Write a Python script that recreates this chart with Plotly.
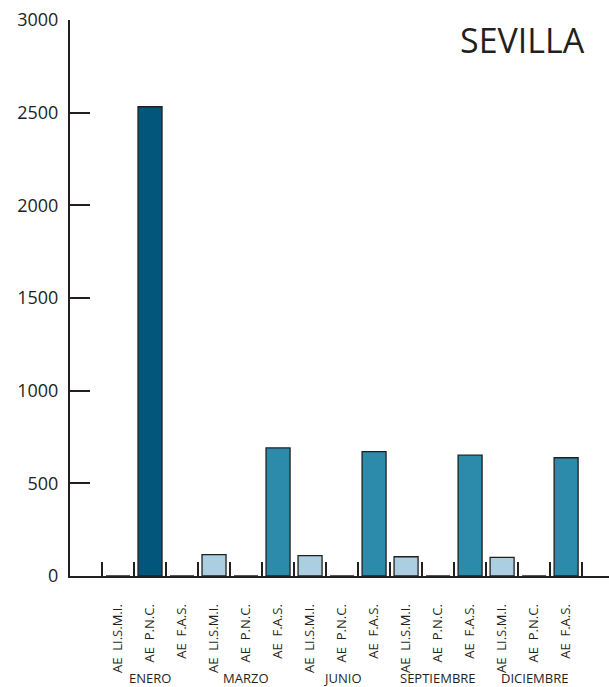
import plotly.graph_objects as go

months = ["ENERO", "MARZO", "JUNIO", "SEPTIEMBRE", "DICIEMBRE"]
types = ["AE\u00a0\u00a0LI.S.M.I.", "AE\u00a0\u00a0P.N.C.", "AE\u00a0\u00a0F.A.S."]
values = [0, 2532, 0,
          115, 0, 691,
          110, 0, 671,
          104, 0, 652,
          101, 0, 638]
bar_colors = ["#0a5274", "#03567b", "#2c8aaa",
              "#abcfe0", "#2c8aaa", "#2c8aaa",
              "#abcfe0", "#2c8aaa", "#2c8aaa",
              "#abcfe0", "#2c8aaa", "#2c8aaa",
              "#abcfe0", "#2c8aaa", "#2c8aaa"]
y_ticks = [0, 500, 1000, 1500, 2000, 2500, 3000]
title = "SEVILLA"

n = len(months) * len(types)
xpos = list(range(n))
ticktext = [t for m in months for t in types]

ink = "#231f20"
fig = go.Figure()
fig.add_trace(go.Bar(
    x=xpos, y=values, width=0.75,
    marker=dict(color=bar_colors, line=dict(color=ink, width=1.3)),
    hoverinfo="skip", showlegend=False,
))

# invisible trace to activate boundary tick axis
fig.add_trace(go.Scatter(x=[-0.5], y=[0], xaxis="x2", mode="markers",
                         marker=dict(opacity=0), showlegend=False, hoverinfo="skip"))

for i, m in enumerate(months):
    fig.add_annotation(x=i * len(types) + 1, y=-0.1835, xref="x", yref="paper",
                       text=m, showarrow=False, yanchor="middle", borderpad=0,
                       font=dict(family="Open Sans", size=13, color=ink))

fig.add_annotation(x=1, xref="paper", xanchor="right", xshift=-22,
                   y=1, yref="paper", yanchor="middle", yshift=-20,
                   text=title, showarrow=False,
                   font=dict(family="Open Sans", size=34, color=ink))

fig.update_layout(
    width=609, height=687,
    margin=dict(l=70, r=0, t=20, b=111),
    plot_bgcolor="white", paper_bgcolor="white",
    font=dict(family="Open Sans", color=ink),
    xaxis=dict(range=[-1.5, 15.34], tickmode="array", tickvals=xpos, ticktext=ticktext,
               tickangle=-90, ticks="", showline=True, linecolor=ink, linewidth=2,
               showgrid=False, zeroline=False, ticklabelstandoff=21,
               tickfont=dict(family="Open Sans", size=13, color=ink)),
    xaxis2=dict(range=[-1.5, 15.34], overlaying="x", anchor="y", side="bottom",
                tickmode="array", tickvals=[i - 0.5 for i in range(n + 1)],
                ticks="inside", ticklen=14, tickwidth=2, tickcolor=ink,
                showticklabels=False, showgrid=False, zeroline=False, showline=False),
    yaxis=dict(range=[0, 3000], tickmode="array", tickvals=y_ticks,
               ticks="inside", ticklen=20, tickwidth=2, tickcolor=ink,
               showline=True, linecolor=ink, linewidth=2,
               showgrid=False, zeroline=False, ticklabelstandoff=6,
               tickfont=dict(family="Open Sans", size=18, color=ink)),
    bargap=0.25,
)
fig.write_html("out.html", config={"displayModeBar": False},
               post_script="document.body.style.margin='0';document.body.style.overflow='hidden';")
